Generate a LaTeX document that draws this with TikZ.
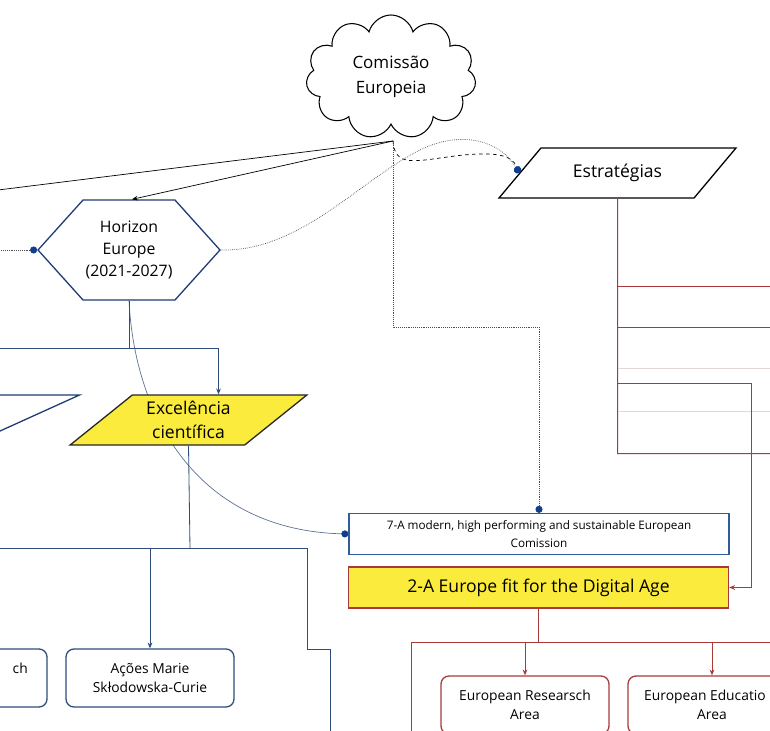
\documentclass[tikz,border=0pt]{standalone}
\usepackage{fontspec}
\setmainfont{Open Sans}
\usetikzlibrary{shapes.symbols,shapes.geometric,arrows.meta,backgrounds}
\newlength\px
\setlength\px{0.03cm}
\definecolor{hexblue}{HTML}{1F3C73}
\definecolor{lineblue}{HTML}{2E4D7B}
\definecolor{curveblue}{HTML}{5A7394}
\definecolor{boxblue}{HTML}{2F5D9B}
\definecolor{dotblue}{HTML}{0F3E8C}
\definecolor{excyellow}{HTML}{FAEB3C}
\definecolor{darkred}{HTML}{A83A3A}
\definecolor{palered}{HTML}{E6D6D6}
\begin{document}
\begin{tikzpicture}[x=0.03cm,y=-0.03cm,
    hexa/.style={signal, signal to=west and east, signal pointer angle=96,
      draw=hexblue, line width=1.1pt, fill=white, minimum width=182\px,
      minimum height=100\px, inner sep=0pt, align=center,
      font=\fontsize{13.5}{18.5}\selectfont},
    para/.style={trapezium, trapezium left angle=41, trapezium right angle=139,
      trapezium stretches=true, minimum width=237\px, minimum height=50\px,
      line width=1.1pt, inner sep=2pt, align=center,
      font=\fontsize{15}{21}\selectfont},
    bluebox/.style={rectangle, rounded corners=8\px, draw=lineblue, line width=1.1pt,
      fill=white, minimum width=168\px, minimum height=58\px, inner sep=0pt,
      align=center, font=\fontsize{11.8}{16.5}\selectfont},
    redbox/.style={bluebox, draw=darkred},
    blueline/.style={draw=lineblue, line width=0.7pt},
    redline/.style={draw=darkred, line width=1\px},
    pontos/.style={draw=black!70, densely dotted, line width=0.6pt},
    tip/.style={-{Stealth[length=5pt,width=4pt]}},
    dot/.style={-{Circle[length=6pt,color=dotblue]}}]
    \useasboundingbox (0,0) rectangle (770,731);
    \clip (0,0) rectangle (770,731);

    % Comissão Europeia
    \node[cloud, cloud puffs=11, aspect=1.4, draw, line width=0.9pt, fill=white,
      minimum width=170\px, minimum height=124\px, inner sep=0pt, align=center,
      font=\fontsize{14.5}{21}\selectfont] (cloud) at (391,77) {Comissão\\Europeia};
    \coordinate (pe) at (393,141);

    % Horizon Europe e pilares
    \node[hexa] (hor) at (129,250) {Horizon\\Europe\\(2021-2027)};
    \node[para, draw=hexblue, fill=white] (pilar) at (-38.5,420) {\strut};
    \node[para, draw=black!85, fill=excyellow] (exc) at (188.5,420) {Excelência\\científica};

    % Estratégias
    \node[para, draw=black, fill=white] (estr) at (617.5,173) {Estratégias};

    % Caixas da Comissão
    \node[rectangle, draw=boxblue, line width=1.1pt, fill=white, minimum width=380\px,
      minimum height=41\px, inner sep=0pt, align=center,
      font=\fontsize{10}{15}\selectfont] (sevA) at (539,534)
      {7-A modern, high performing and sustainable European\\Comission};
    \node[rectangle, draw=darkred, line width=1.1pt, fill=excyellow, minimum width=380\px,
      minimum height=41\px, inner sep=0pt,
      font=\fontsize{15}{18}\selectfont] (twoA) at (538.5,587.5)
      {2-A Europe fit for the Digital Age};

    % Acções e áreas
    \node[bluebox] (erc) at (-37,678) {};
    \node[anchor=east, inner sep=0pt, font=\fontsize{11.8}{16.5}\selectfont] (ercfim) at (28,668) {ch};
    \node[bluebox] (acoes) at (150,678) {Ações Marie\\Skłodowska-Curie};
    \node[redbox] (era) at (525,705) {European Researsch\\Area};
    \node[redbox] (eea) at (712,705) {\hspace*{-12pt}European Educatio\\Area};

    % fundo e curva atrás dos nós
    \begin{scope}[on background layer]
      \fill[white] (0,0) rectangle (770,731);
      \draw[draw=curveblue, line width=0.6pt, dot] (hor.south) .. controls (135,420) and (200,530) .. (sevA.west);
    \end{scope}

    % Ligações da Comissão
    \coordinate (foraE) at (-10,191);
    \draw[line width=0.6pt] (pe) -- (foraE);
    \draw[line width=0.6pt, tip] (pe) -- ([xshift=3\px]hor.north);
    \draw[line width=0.6pt, dashed, dot] (pe) .. controls (395,168) and (415,161) .. (455,156)
      .. controls (495,151) and (512,155) .. (estr.west);
    \draw[pontos, dot] (hor.east) .. controls (300,252) and (360,180) .. (420,150)
      .. controls (460,130) and (500,140) .. (estr.west);
    \draw[pontos, dot] (pe) -- (393,327) -| (sevA.north);
    \coordinate (foraH) at (-10,250);
    \draw[pontos, dot] (foraH) -- (hor.west);

    % Horizon -> pilares
    \coordinate (hbus) at (129,348);
    \coordinate (foraB) at (-10,348);
    \draw[blueline] (hor.south) -- (hbus) -- (foraB);
    \draw[blueline, tip] (hbus) -| ([xshift=30\px]exc.north);

    % Excelência -> acções
    \coordinate (ebus) at (190,548);
    \coordinate (foraC) at (-10,548);
    \coordinate (foraD) at (330,740);
    \draw[blueline] (exc.south) -- (ebus);
    \draw[blueline] (foraC) -- (307,548) -- (307,649) -- (330,649) -- (foraD);
    \draw[blueline, tip] (acoes.north |- ebus) -- (acoes.north);

    % Estratégias (árvore)
    \coordinate (foraR) at (780,453.5);
    \draw[redline] (estr.south) -- (617.5,453.5) -- (foraR);
    \foreach \y in {286.5,327.5}
      \draw[redline] (617.5,\y) -- (780,\y);
    \foreach \y in {368.5,411.5}
      \draw[redline, draw=palered] (617.5,\y) -- (780,\y);
    \draw[redline, tip] (617.5,383.5) -- (751.5,383.5) |- (twoA.east);

    % 2-A -> áreas
    \coordinate (abus) at (538.5,642.5);
    \coordinate (foraF) at (411.5,740);
    \coordinate (foraG) at (780,642.5);
    \draw[redline] (twoA.south) -- (abus);
    \draw[redline] (foraF) -- (411.5,642.5) -- (foraG);
    \draw[redline, tip] (era.north |- abus) -- (era.north);
    \draw[redline, tip] (eea.north |- abus) -- (eea.north);
  \end{tikzpicture}
\end{document}
